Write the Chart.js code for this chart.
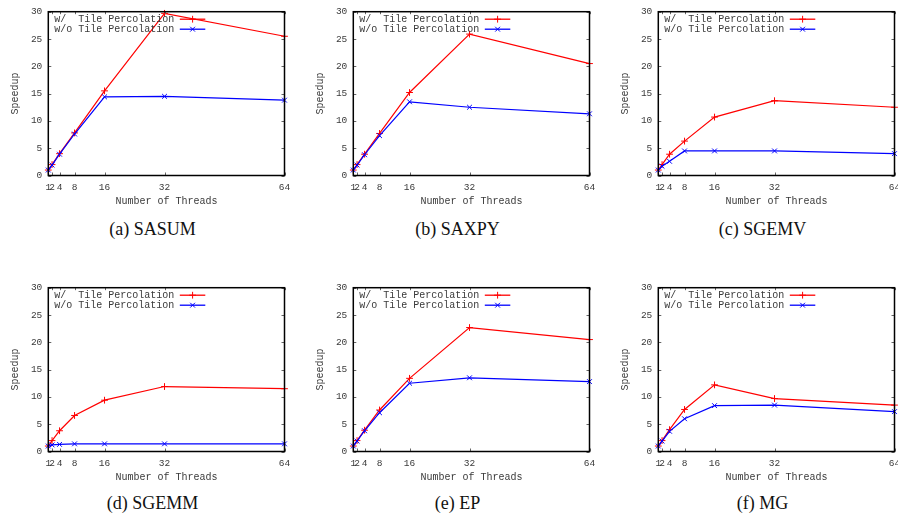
<!DOCTYPE html>
<html><head><meta charset="utf-8">
<script src="https://cdn.jsdelivr.net/npm/chart.js@4.4.0/dist/chart.umd.min.js"></script>
<style>
html,body{margin:0;padding:0;background:#fff;width:898px;height:519px;overflow:hidden;position:relative}
canvas.panel{position:absolute;width:300px;height:215px}
.cap{position:absolute;width:305px;text-align:center;font-family:"Liberation Serif","Times New Roman",serif;font-size:18px;color:#111;line-height:20px;white-space:nowrap}
</style></head><body>
<script>
// ---- data ----
const threads = [1, 2, 4, 8, 16, 32, 64];
const xTicks = [1, 2, 4, 8, 16, 32, 64];
const yTicks = [0, 5, 10, 15, 20, 25, 30];
const seriesLabels = ['w/  Tile Percolation', 'w/o Tile Percolation'];
const captions = ['(a) SASUM', '(b) SAXPY', '(c) SGEMV', '(d) SGEMM', '(e) EP', '(f) MG'];

const sasumWith    = [1, 2.0, 4.0, 7.8, 15.5, 29.7, 25.5];
const sasumWithout = [1, 1.9, 3.9, 7.6, 14.4, 14.5, 13.8];
const saxpyWith    = [1, 2.0, 3.9, 7.7, 15.2, 25.9, 20.5];
const saxpyWithout = [1, 1.9, 3.8, 7.3, 13.5, 12.5, 11.3];
const sgemvWith    = [1, 2.0, 3.9, 6.3, 10.7, 13.7, 12.5];
const sgemvWithout = [1, 1.7, 2.6, 4.5, 4.5, 4.5, 4.0];
const sgemmWith    = [1, 2.0, 3.8, 6.6, 9.4, 11.9, 11.5];
const sgemmWithout = [1, 1.2, 1.3, 1.4, 1.4, 1.4, 1.4];
const epWith       = [1, 2.0, 3.9, 7.6, 13.4, 22.7, 20.5];
const epWithout    = [1, 1.9, 3.8, 7.1, 12.5, 13.5, 12.8];
const mgWith       = [1, 2.0, 4.0, 7.7, 12.2, 9.7, 8.5];
const mgWithout    = [1, 1.9, 3.7, 6.0, 8.4, 8.5, 7.3];

const panelsWith = [sasumWith, saxpyWith, sgemvWith, sgemmWith, epWith, mgWith];
const panelsWithout = [sasumWithout, saxpyWithout, sgemvWithout, sgemmWithout, epWithout, mgWithout];

// ---- layout ----
const MONO = '"Liberation Mono", "DejaVu Sans Mono", monospace';
const TXT = '#3a3a3a';
const colLeft = [0, 305, 610];
const rowTop = [0, 275.7];
const capTop = [219, 493];
const RED = '#ff0000', BLUE = '#0000ff';

const framePlugin = {
  id: 'frame',
  afterDatasetsDraw(chart) {
    const ctx = chart.ctx, a = chart.chartArea;
    const xs = chart.scales.x, ys = chart.scales.y;
    ctx.save();
    ctx.strokeStyle = '#666';
    ctx.lineWidth = 1;
    ctx.beginPath();
    yTicks.forEach(v => {
      const y = Math.round(ys.getPixelForValue(v)) + 0.5;
      ctx.moveTo(a.left, y); ctx.lineTo(a.left + 3, y);
      ctx.moveTo(a.right, y); ctx.lineTo(a.right - 3, y);
    });
    xTicks.forEach(v => {
      const x = Math.round(xs.getPixelForValue(v)) + 0.5;
      ctx.moveTo(x, a.bottom); ctx.lineTo(x, a.bottom - 3);
      ctx.moveTo(x, a.top); ctx.lineTo(x, a.top + 2.5);
    });
    ctx.stroke();
    ctx.strokeStyle = '#000';
    ctx.lineWidth = 1.5;
    ctx.strokeRect(a.left, a.top, a.right - a.left, a.bottom - a.top);
    ctx.restore();
  },
  afterDraw(chart) {
    const ctx = chart.ctx, a = chart.chartArea;
    ctx.save();
    ctx.font = '10px ' + MONO;
    ctx.fillStyle = TXT;
    ctx.textBaseline = 'middle';
    ctx.textAlign = 'left';
    chart.data.datasets.forEach((ds, i) => {
      const y = a.top + 7.5 + i * 10;
      ctx.fillText(ds.label, a.left + 6, y);
      ctx.strokeStyle = ds.borderColor;
      ctx.lineWidth = 1.3;
      ctx.beginPath();
      ctx.moveTo(a.left + 131.5, y); ctx.lineTo(a.left + 157, y);
      ctx.stroke();
      ctx.lineWidth = 1;
      Chart.helpers.drawPoint(ctx, {
        pointStyle: ds.pointStyle, radius: ds.pointRadius, borderWidth: 1, rotation: 0
      }, a.left + 144.3, y);
    });
    ctx.restore();
  }
};

for (let p = 0; p < 6; p++) {
  const col = p % 3, row = Math.floor(p / 3);
  const cv = document.createElement('canvas');
  cv.className = 'panel';
  cv.width = 300; cv.height = 215;
  cv.style.left = colLeft[col] + 'px';
  cv.style.top = rowTop[row] + 'px';
  document.body.appendChild(cv);

  const cap = document.createElement('div');
  cap.className = 'cap';
  cap.style.left = colLeft[col] + 'px';
  cap.style.top = capTop[row] + 'px';
  cap.textContent = captions[p];
  document.body.appendChild(cap);

  const mk = (vals) => threads.map((t, i) => ({ x: t, y: vals[i] }));

  new Chart(cv, {
    type: 'line',
    data: {
      datasets: [
        { label: seriesLabels[0], data: mk(panelsWith[p]), borderColor: RED, backgroundColor: RED,
          borderWidth: 1.2, pointStyle: 'cross', pointRadius: 3.4, pointBorderWidth: 1,
          pointBorderColor: RED, tension: 0, fill: false, clip: false, order: 1 },
        { label: seriesLabels[1], data: mk(panelsWithout[p]), borderColor: BLUE, backgroundColor: BLUE,
          borderWidth: 1.2, pointStyle: 'crossRot', pointRadius: 3.4, pointBorderWidth: 1,
          pointBorderColor: BLUE, tension: 0, fill: false, clip: false, order: 0 }
      ]
    },
    options: {
      responsive: false,
      animation: false,
      events: [],
      layout: { padding: { left: 0, top: 9.3, right: 15.5, bottom: 0 } },
      plugins: { legend: { display: false }, tooltip: { enabled: false } },
      scales: {
        x: {
          type: 'linear', min: 1, max: 64,
          afterBuildTicks: s => { s.ticks = xTicks.map(v => ({ value: v })); },
          grid: { display: false, drawTicks: false },
          border: { display: false },
          ticks: { autoSkip: false, maxRotation: 0, minRotation: 0, padding: 6,
                   font: { family: MONO, size: 9.5 }, color: TXT, callback: v => String(v) },
          title: { display: true, text: 'Number of Threads', font: { family: MONO, size: 10 },
                   color: TXT, padding: { top: 0, bottom: 8 } },
          afterFit: s => { s.height = 39.5; }
        },
        y: {
          min: 0, max: 30,
          afterBuildTicks: s => { s.ticks = yTicks.map(v => ({ value: v })); },
          grid: { display: false, drawTicks: false },
          border: { display: false },
          ticks: { padding: 6, font: { family: MONO, size: 9.5 }, color: TXT },
          title: { display: true, text: 'Speedup', font: { family: MONO, size: 10 },
                   color: TXT, padding: { top: 9, bottom: 0 } },
          afterFit: s => { s.width = 48.3; }
        }
      }
    },
    plugins: [framePlugin]
  });
}
</script>
</body></html>
